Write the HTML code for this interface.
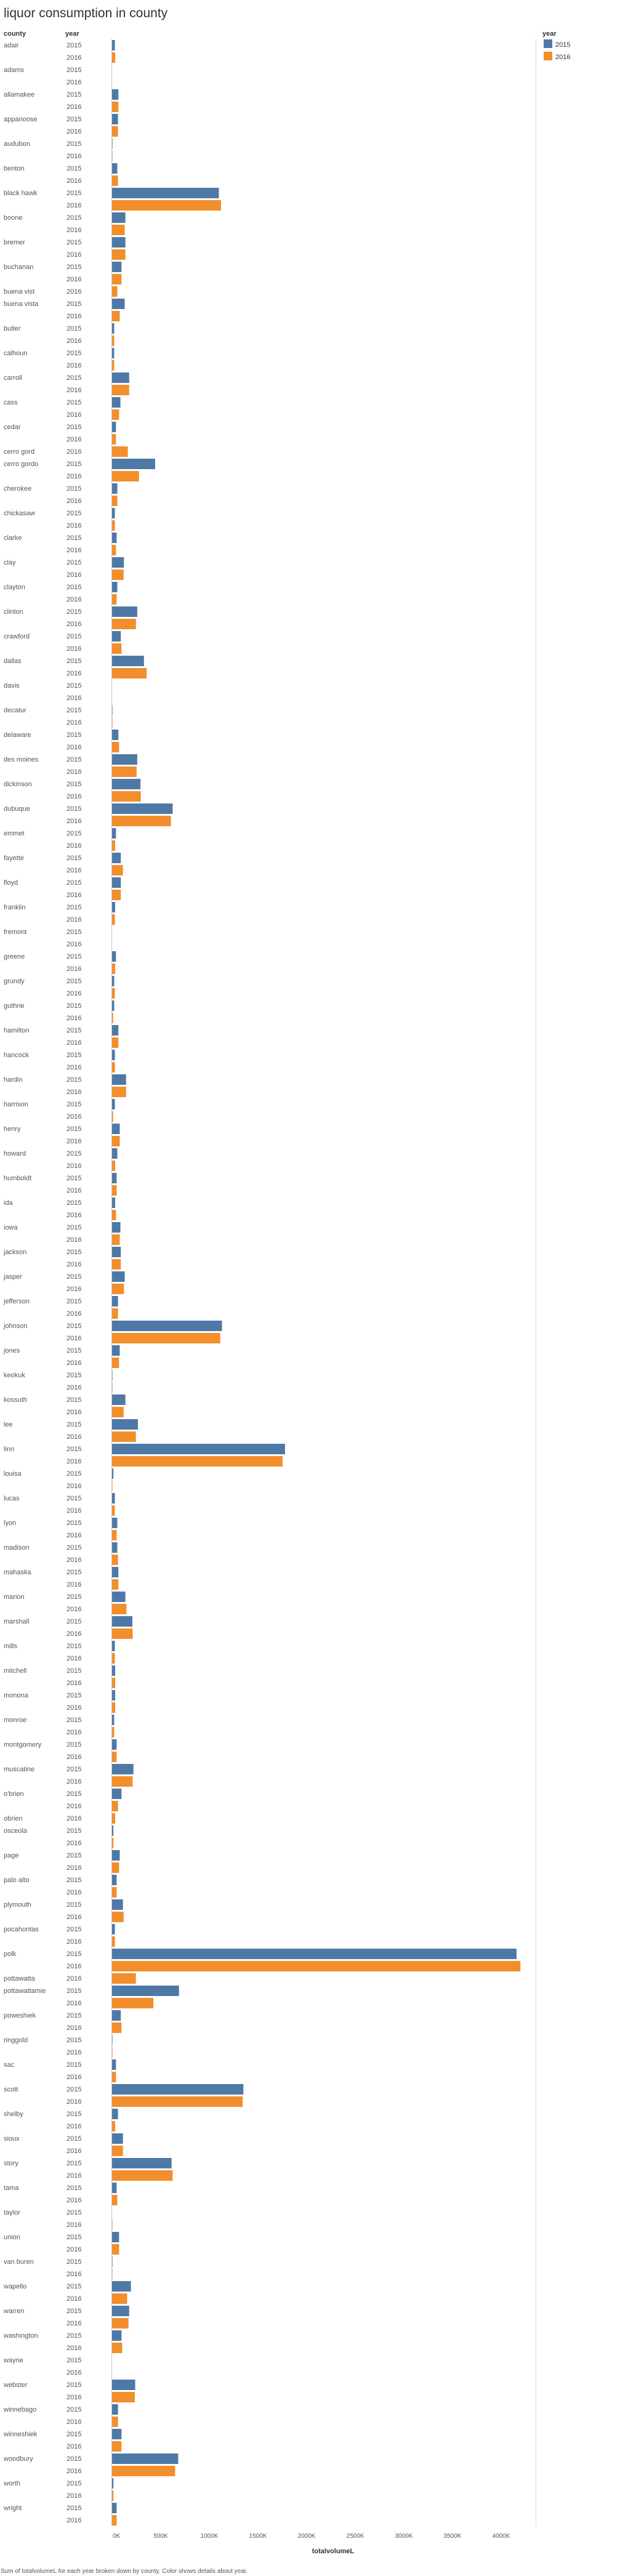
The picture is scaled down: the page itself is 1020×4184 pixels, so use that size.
<!DOCTYPE html>
<html><head><meta charset="utf-8">
<style>
html,body{margin:0;padding:0;background:#fff;}
body{width:1020px;height:4184px;position:relative;overflow:hidden;font-family:"Liberation Sans",sans-serif;}
svg{position:absolute;left:0;top:0;}
</style></head>
<body>
<svg id="chart" width="1020" height="4184" xmlns="http://www.w3.org/2000/svg">
  <text x="6" y="28" font-size="21" fill="#333">liquor consumption in county</text>
  <text x="6" y="58" font-size="11" font-weight="bold" fill="#333">county</text>
  <text x="106" y="58" font-size="11" font-weight="bold" fill="#333">year</text>
  <g>
    <text x="881" y="58" font-size="11" font-weight="bold" fill="#333">year</text>
    <rect x="883" y="64" width="14" height="14" fill="#4e79a7"/>
    <text x="902" y="76" font-size="11" fill="#333">2015</text>
    <rect x="883" y="84" width="14" height="14" fill="#f28e2b"/>
    <text x="902" y="96" font-size="11" fill="#333">2016</text>
  </g>
  <g id="rows"></g>
  <g id="axis"></g>
  <text x="541" y="4147" font-size="11" font-weight="bold" fill="#333" text-anchor="middle">totalvolumeL</text>
  <text x="1" y="4179" font-size="10" fill="#555">Sum of totalvolumeL for each year broken down by county.  Color shows details about year.</text>
</svg>
<script>
const counties = ["adair","adams","allamakee","appanoose","audubon","benton","black hawk","boone","bremer","buchanan","buena vist","buena vista","butler","calhoun","carroll","cass","cedar","cerro gord","cerro gordo","cherokee","chickasaw","clarke","clay","clayton","clinton","crawford","dallas","davis","decatur","delaware","des moines","dickinson","dubuque","emmet","fayette","floyd","franklin","fremont","greene","grundy","guthrie","hamilton","hancock","hardin","harrison","henry","howard","humboldt","ida","iowa","jackson","jasper","jefferson","johnson","jones","keokuk","kossuth","lee","linn","louisa","lucas","lyon","madison","mahaska","marion","marshall","mills","mitchell","monona","monroe","montgomery","muscatine","o'brien","obrien","osceola","page","palo alto","plymouth","pocahontas","polk","pottawatta","pottawattamie","poweshiek","ringgold","sac","scott","shelby","sioux","story","tama","taylor","union","van buren","wapello","warren","washington","wayne","webster","winnebago","winneshiek","woodbury","worth","wright"];
const vals2015 = [29,0,65,61,4,54,1098,137,137,97,null,130,22,22,176,86,40,null,443,54,29,47,122,54,259,90,328,0,3,65,259,292,623,40,90,90,32,0,40,22,22,65,29,144,29,79,54,47,32,86,90,130,61,1130,79,3,137,266,1778,14,29,54,54,65,137,209,29,32,32,22,47,220,97,null,14,79,47,112,29,4158,null,688,90,2,40,1350,61,112,612,47,0,72,2,194,176,97,0,238,61,97,680,14,47];
const vals2016 = [32,0,65,61,4,61,1120,130,137,97,54,79,22,22,176,72,40,162,277,54,29,40,119,47,245,97,356,0,3,72,252,295,605,32,112,90,29,0,32,29,11,65,29,144,11,79,32,47,40,79,90,122,61,1112,72,2,119,245,1753,3,29,47,61,65,148,212,29,32,32,22,47,212,61,32,14,72,47,119,29,4198,245,425,97,1,40,1343,32,112,623,54,1,72,1,155,169,104,0,234,61,97,648,14,47];
const tickValues = [0,500,1000,1500,2000,2500,3000,3500,4000];
const tickLabels = ["0K","500K","1000K","1500K","2000K","2500K","3000K","3500K","4000K"];

const NS = "http://www.w3.org/2000/svg";
const X0 = 182, PXK = 0.158, TOP = 63, ROWH = 20;
function xScale(v){ return X0 + v*PXK; }
function mk(tag, attrs){ const e=document.createElementNS(NS,tag); for(const k in attrs) e.setAttribute(k,attrs[k]); return e; }

const rowsG = document.getElementById('rows');
let r = 0;
counties.forEach((c, i) => {
  const series = [[vals2015[i],"2015","#4e79a7"],[vals2016[i],"2016","#f28e2b"]].filter(s => s[0] !== null);
  series.forEach((s, j) => {
    const y = TOP + r*ROWH;
    if (j === 0) {
      const t = mk('text',{x:6,y:y+14,'font-size':11,fill:'#555'});
      t.textContent = c;
      
      
      rowsG.appendChild(t);
    }
    const yt = mk('text',{x:108,y:y+14,'font-size':11,fill:'#555'});
    yt.textContent = s[1];
    
    
    rowsG.appendChild(yt);
    const w = Math.max(xScale(s[0]) - X0, s[0] > 0 ? 0.6 : 0);
    const b = mk('rect',{x:X0,y:y+2,width:w,height:17,fill:s[2]});
    
    
    rowsG.appendChild(b);
    r++;
  });
});
const bottom = TOP + r*ROWH;

const ax = document.getElementById('axis');
const l1 = mk('line',{x1:X0-0.5,y1:TOP,x2:X0-0.5,y2:bottom,stroke:'#c8c8c8','stroke-width':1});


ax.appendChild(l1);
const l2 = mk('line',{x1:870.5,y1:TOP,x2:870.5,y2:bottom,stroke:'#d8d8d8','stroke-width':1});


ax.appendChild(l2);
tickValues.forEach((v, i) => {
  const t = mk('text',{x: i===0 ? X0+1 : xScale(v), y: bottom+19,'font-size':10,fill:'#555','text-anchor': i===0 ? 'start' : 'middle'});
  t.textContent = tickLabels[i];
  
  
  ax.appendChild(t);
});
</script>
</body></html>
